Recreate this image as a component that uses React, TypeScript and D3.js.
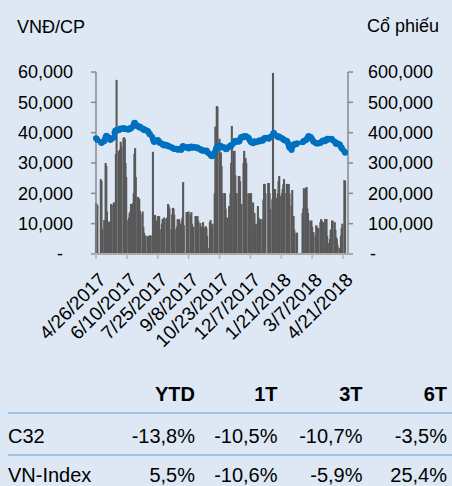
import React from 'react';
import * as d3 from 'd3';

// ---------- DATA ----------
const START_DATE = '2017-04-26';
const END_DATE = '2018-04-24';
const HOLIDAYS = ['2017-05-01', '2017-05-02', '2017-09-04', '2018-01-01', '2018-02-14', '2018-02-15', '2018-02-16', '2018-02-19', '2018-02-20', '2018-04-25'];

// daily volume, thousand shares (one value per trading day)
const VOLUME = [
  168, 165, 160,
  247, 240, 82,
  112, 110, 300, 290, 140,
  107, 105, 100, 165, 162,
  170, 168, 165, 330, 574,
  340, 330, 345, 370, 353,
  382, 385, 380, 300, 254,
  112, 120, 135, 140, 165,
  168, 200, 330, 349, 254,
  188, 185, 181, 142, 132,
  140, 89, 70, 62, 60,
  59, 55, 60, 58, 62,
  60, 337, 120, 112, 129,
  110, 125, 105, 125, 82,
  100, 115, 115, 120, 115,
  120, 90, 165, 160, 150,
  82, 130, 152, 150, 130,
  82, 90, 115, 112, 115,
  100, 110, 120, 237, 95,
  138, 138, 135, 140,
  130, 138, 100, 82, 90,
  125, 125, 120, 125, 110,
  102, 82, 90, 80, 105,
  88, 92, 85, 60, 20,
  105, 112, 85, 95, 100,
  200, 420, 300, 488, 485,
  380, 323, 335, 290, 200,
  201, 200, 150, 109, 120,
  158, 158, 200, 300, 422,
  340, 340, 260, 201, 201,
  257, 257, 240, 165, 165,
  300, 340, 316, 316, 300,
  200, 165, 200, 200, 200,
  170, 135, 135, 66, 100,
  158, 120, 115, 115, 115,
  115, 180, 231, 231, 200,
  234, 234, 200, 148,
  180, 597, 200, 214, 214,
  185, 200, 240, 257, 191,
  200, 214, 230, 247, 201,
  231, 231, 180, 231, 200,
  160, 211, 125, 125, 80,
  70, 70,
  135, 150, 217,
  217, 221, 150, 135, 110,
  110, 110, 90, 72, 72,
  60, 95, 90, 85, 85,
  105, 115, 110, 105, 105,
  115, 115, 115, 60, 36,
  50, 80, 80, 110, 110,
  105, 80, 55, 50, 30,
  20, 20, 60, 86, 100,
  244, 240,
];

// closing price, thousand VND
const PRICE = [
  38.2, 38.0, 37.6,
  36.8, 36.6, 36.8,
  37.2, 37.8, 38.6, 39.0, 38.8,
  38.4, 37.8, 37.6, 37.9, 38.0,
  38.4, 40.0, 40.6, 40.8, 40.6,
  40.8, 41.0, 41.3, 41.4, 41.2,
  41.5, 41.3, 41.2, 41.4, 41.2,
  41.0, 41.3, 41.2, 41.5, 41.4,
  42.0, 42.8, 43.3, 43.2, 42.6,
  42.0, 42.2, 41.8, 41.6, 41.9,
  41.3, 41.0, 41.2, 40.8, 40.9,
  40.6, 40.4, 40.0, 39.6, 39.4,
  38.6, 37.8, 37.2, 36.9, 37.4,
  37.2, 37.6, 37.3, 37.0, 36.6,
  36.4, 36.1, 36.0, 35.8, 36.1,
  35.9, 35.7, 35.6, 35.4, 35.5,
  35.2, 35.0, 34.9, 34.8, 34.6,
  34.7, 34.5, 34.4, 34.6, 34.5,
  34.3, 34.6, 35.4, 35.6, 35.2,
  35.0, 35.3, 35.0, 34.8,
  35.2, 35.4, 35.0, 35.1, 35.3,
  35.2, 35.0, 34.9, 35.1, 34.8,
  34.6, 34.3, 34.2, 34.0, 34.2,
  34.0, 33.9, 34.1, 33.8, 33.4,
  33.0, 32.6, 32.4, 32.2, 32.5,
  33.4, 34.0, 34.8, 35.2, 35.5,
  35.8, 35.4, 35.6, 35.3, 35.1,
  35.2, 35.0, 34.6, 34.5, 34.8,
  35.3, 35.6, 35.8, 35.5, 36.0,
  36.6, 37.0, 37.3, 37.0, 37.2,
  37.0, 37.2, 37.8, 38.4, 38.6,
  38.8, 38.5, 38.9, 38.6, 38.8,
  38.4, 38.0, 37.6, 37.2, 36.8,
  36.5, 36.8, 37.2, 37.0, 36.8,
  37.0, 37.3, 37.4, 37.2, 37.5,
  37.3, 37.8, 38.2, 38.0, 38.3,
  38.2, 38.0, 38.4, 38.6,
  39.0, 39.6, 40.0, 39.6, 39.2,
  38.8, 38.6, 38.8, 38.4, 38.6,
  38.2, 38.0, 37.8, 37.6, 37.4,
  37.3, 37.0, 36.4, 35.6, 35.0,
  34.3, 35.2, 35.8, 36.0, 36.3,
  36.2, 36.5,
  36.8, 37.0, 37.3,
  37.5, 37.8, 38.2, 38.6, 38.9,
  38.6, 38.2, 37.8, 37.4, 37.0,
  36.7, 36.5, 36.4, 36.6, 36.4,
  36.6, 36.8, 37.0, 37.3, 37.4,
  37.2, 37.5, 37.8, 38.0, 37.7,
  37.9, 38.0, 37.8, 37.9, 37.5,
  37.0, 36.6, 36.3, 36.6, 36.4,
  36.2, 35.8, 35.2, 35.0, 34.6,
  33.8, 33.4,
];

const TICK_DATES = ['2017-04-26', '2017-06-10', '2017-07-25', '2017-09-08', '2017-10-23', '2017-12-07', '2018-01-21', '2018-03-07', '2018-04-21'];
const LEFT_TICKS = [0, 10, 20, 30, 40, 50, 60];
const RIGHT_TICKS = [0, 100, 200, 300, 400, 500, 600];
const LEFT_TITLE = 'VNĐ/CP';
const RIGHT_TITLE = 'Cổ phiếu';

const TABLE_HEADERS = ['YTD', '1T', '3T', '6T'];
const ROW_NAMES = ['C32', 'VN-Index'];
const C32_VALUES = ['-13,8%', '-10,5%', '-10,7%', '-3,5%'];
const VNINDEX_VALUES = ['5,5%', '-10,6%', '-5,9%', '25,4%'];

// ---------- CHART ----------
const W = 452;
const H = 486;
const FONT = "'Liberation Sans', Arial, sans-serif";
const BG = '#dde8f4';
const BAR = '#595959';
const LINE = '#0070c0';
const AXIS = '#8a8a8a';

const parse = d3.utcParse('%Y-%m-%d');
const holidaySet = new Set(HOLIDAYS);
const tradingDays = d3.utcDay
  .range(parse(START_DATE)!, d3.utcDay.offset(parse(END_DATE)!, 1))
  .filter((d) => d.getUTCDay() !== 0 && d.getUTCDay() !== 6 && !holidaySet.has(d3.utcFormat('%Y-%m-%d')(d)));

const n = Math.min(tradingDays.length, VOLUME.length, PRICE.length);
const rows = d3.range(n).map((i) => ({ date: tradingDays[i], vol: VOLUME[i], price: PRICE[i] }));

const plotLeft = 96;
const plotRight = 348;
const plotTop = 72;
const plotBottom = 254;

const x = d3.scaleUtc().domain([parse('2017-04-26')!, parse('2018-04-21')!]).range([96, 343]);
const yL = d3.scaleLinear().domain([0, 60]).range([plotBottom, plotTop]);
const yR = d3.scaleLinear().domain([0, 600]).range([plotBottom, plotTop]);

const fmtNum = d3.format(',');
const fmtDate = d3.utcFormat('%-m/%-d/%Y');

const lineGen = d3
  .line<{ date: Date; price: number }>()
  .x((d) => x(d.date))
  .y((d) => yL(d.price));

const barW = 2.1;
const colX = [195, 277.5, 362.5, 447];

export default function App() {
  return (
    <svg
      width={W}
      height={H}
      style={{ position: 'absolute', left: 0, top: 0, display: 'block' }}
      fontFamily={FONT}
    >
      <rect x={0} y={0} width={W} height={H} fill={BG} />

      {/* titles */}
      <text x={17} y={33} fontSize={18} fill="#000">{LEFT_TITLE}</text>
      <text x={439} y={32} fontSize={18} fill="#000" textAnchor="end">{RIGHT_TITLE}</text>

      {/* volume bars */}
      <g fill={BAR}>
        {rows.map((r, i) => (
          <rect key={i} x={x(r.date) - barW / 2} y={yR(r.vol)} width={barW} height={plotBottom - yR(r.vol)} />
        ))}
      </g>

      {/* axes */}
      <line x1={plotLeft} x2={plotLeft} y1={plotTop} y2={plotBottom} stroke={AXIS} strokeWidth={1.5} />
      <line x1={plotRight} x2={plotRight} y1={plotTop} y2={plotBottom} stroke={AXIS} strokeWidth={1.5} />
      {LEFT_TICKS.map((t) => (
        <line key={'lt' + t} x1={plotLeft - 5} x2={plotLeft} y1={yL(t)} y2={yL(t)} stroke={AXIS} strokeWidth={1.5} />
      ))}
      {RIGHT_TICKS.map((t) => (
        <line key={'rt' + t} x1={plotRight} x2={plotRight + 5} y1={yR(t)} y2={yR(t)} stroke={AXIS} strokeWidth={1.5} />
      ))}
      <line x1={plotLeft - 5} x2={plotRight + 5} y1={plotBottom} y2={plotBottom} stroke="#a9a9a9" strokeWidth={2} />
      {TICK_DATES.map((s) => (
        <line key={'xt' + s} x1={x(parse(s)!)} x2={x(parse(s)!)} y1={plotBottom} y2={plotBottom + 5} stroke="#b5b5b5" strokeWidth={1.5} />
      ))}

      {/* price line */}
      <path d={lineGen(rows) || ''} fill="none" stroke={LINE} strokeWidth={3.6} strokeLinejoin="round" strokeLinecap="round" />
      <g fill={LINE}>
        {rows.map((r, i) => (
          <circle key={i} cx={x(r.date)} cy={yL(r.price)} r={3} />
        ))}
      </g>

      {/* left tick labels */}
      {LEFT_TICKS.map((t) => (
        <text key={'ll' + t} x={t === 0 ? 63 : 73} y={yL(t)} dy="0.36em" fontSize={18} textAnchor="end" fill="#000">
          {t === 0 ? '-' : fmtNum(t * 1000)}
        </text>
      ))}
      {/* right tick labels */}
      {RIGHT_TICKS.map((t) => (
        <text key={'rl' + t} x={t === 0 ? 370 : 368} y={yR(t)} dy="0.36em" fontSize={18} textAnchor="start" fill="#000">
          {t === 0 ? '-' : fmtNum(t * 1000)}
        </text>
      ))}
      {/* date labels */}
      {TICK_DATES.map((s) => {
        const xx = x(parse(s)!);
        return (
          <text
            key={'dl' + s}
            transform={`translate(${xx + 11},${281}) rotate(-45)`}
            fontSize={19}
            textAnchor="end"
            fill="#000"
          >
            {fmtDate(parse(s)!)}
          </text>
        );
      })}

      {/* table */}
      {TABLE_HEADERS.map((h, i) => (
        <text key={'h' + h} x={colX[i]} y={401} fontSize={20} fontWeight="bold" textAnchor="end" fill="#000">
          {h}
        </text>
      ))}
      <line x1={8} x2={W} y1={413} y2={413} stroke="#9dc3e6" strokeWidth={2} />
      <line x1={8} x2={W} y1={455} y2={455} stroke="#9dc3e6" strokeWidth={2} />
      {[C32_VALUES, VNINDEX_VALUES].map((vals, r) => (
        <g key={'row' + r}>
          <text x={8} y={443 + r * 39} fontSize={20} fill="#000">{ROW_NAMES[r]}</text>
          {vals.map((v, i) => (
            <text key={i} x={colX[i]} y={443 + r * 39} fontSize={20} textAnchor="end" fill="#000">
              {v}
            </text>
          ))}
        </g>
      ))}
    </svg>
  );
}
